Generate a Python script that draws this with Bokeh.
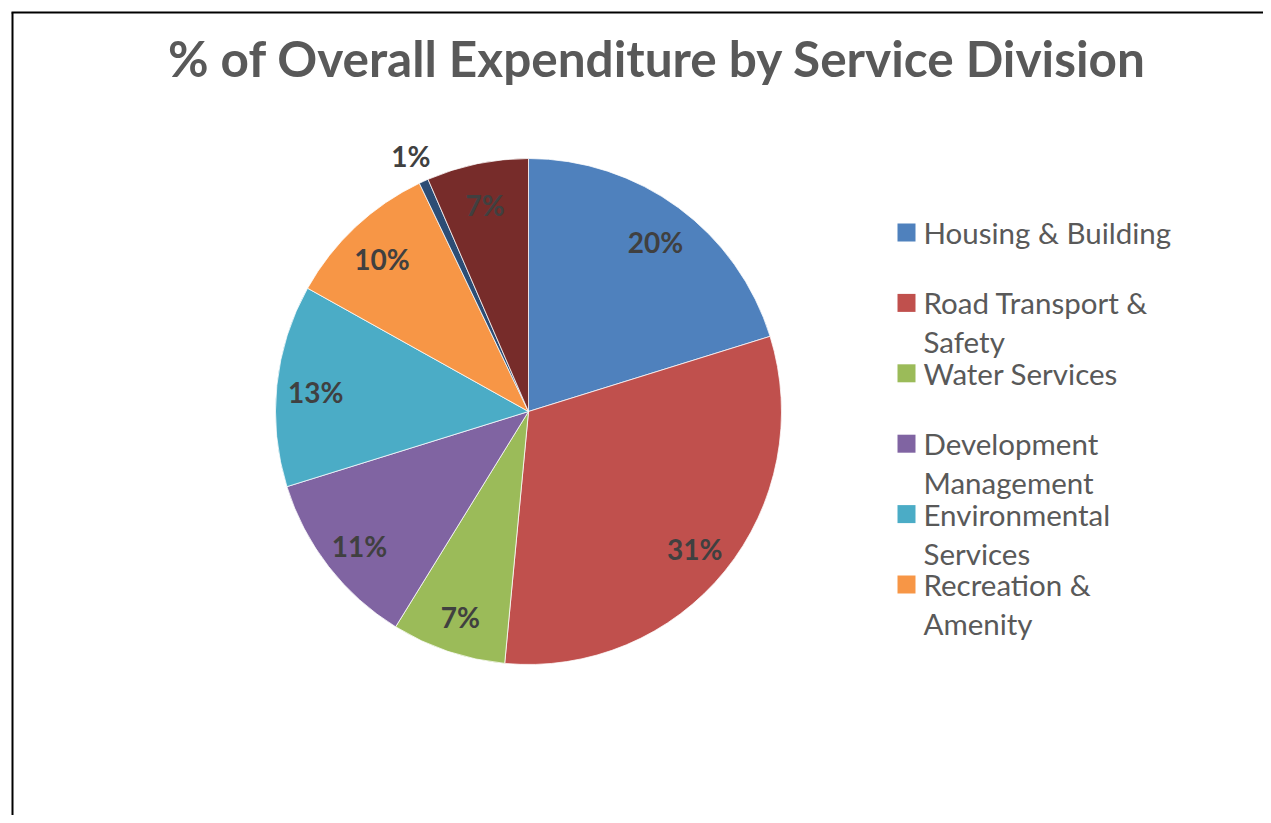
import math
from bokeh.plotting import figure
from bokeh.models import Range1d, ColumnDataSource
from bokeh.core.properties import value
from bokeh.embed import file_html
from bokeh.resources import INLINE

# ---- data ----
categories = ["Housing & Building", "Road Transport & Safety", "Water Services",
              "Development Management", "Environmental Services", "Recreation & Amenity",
              "Agriculture, Education, Health & Welfare", "Miscellaneous Services"]
legend_labels = ["Housing & Building", "Road Transport &\nSafety", "Water Services",
                 "Development\nManagement", "Environmental\nServices", "Recreation &\nAmenity"]
shares = [20.2, 31.3, 7.3, 11.4, 12.9, 9.8, 0.6, 6.5]
colors = ["#4F81BD", "#C0504D", "#9BBB59", "#8064A2", "#4BACC6", "#F79646", "#2C4D75", "#772C2A"]
title_text = "% of Overall Expenditure by Service Division"

W, H = 1263, 815
FONT = "Lato"

p = figure(width=W, height=H, output_backend="svg", toolbar_location=None,
           x_range=Range1d(0, W), y_range=Range1d(0, H), min_border=0)
p.axis.visible = False
p.grid.visible = False
p.outline_line_color = None
p.background_fill_color = "white"
p.border_fill_color = "white"

def py(y_page):
    return H - y_page

def px(x_page):
    return x_page

# chart-area border (left and top edges visible)
p.segment(x0=[px(12), px(11)], y0=[py(12), py(12)], x1=[px(12), px(2000)], y1=[py(2000), py(12)],
          line_color="black", line_width=2)

# title
p.text(x=[px(657)], y=[py(57)], text=[title_text], text_font=value(FONT),
       text_font_style="bold", text_font_size="49.5px", text_color="#595959",
       text_align="center", text_baseline="middle")

# pie
cx, cy, R = px(528), py(411), 253
total = sum(shares)
starts, ends, mids = [], [], []
cum = 0.0
for v in shares:
    a0 = math.pi / 2 - 2 * math.pi * cum / total
    cum += v
    a1 = math.pi / 2 - 2 * math.pi * cum / total
    starts.append(a0)
    ends.append(a1)
    mids.append((a0 + a1) / 2)

src = ColumnDataSource(dict(start=starts, end=ends, color=colors))
p.wedge(x=cx, y=cy, radius=R, radius_units="screen", start_angle="start", end_angle="end",
        direction="clock", fill_color="color", line_color="white", line_width=0.75, source=src)

# data labels
lx, ly, lt = [], [], []
for v, m in zip(shares, mids):
    r = 214 if v >= 2 else 284
    lx.append(cx + r * math.cos(m))
    ly.append(cy + r * math.sin(m) - 3)
    lt.append(f"{int(math.floor(v / total * 100 + 0.5))}%")
p.text(x=lx, y=ly, text=lt, text_font=value(FONT), text_font_style="bold",
       text_font_size="28px", text_color="#404040", text_align="center", text_baseline="middle")

# legend (first six entries visible, like the reference)
n = len(legend_labels)
leg_y = [py(232 + 70.4 * i) for i in range(n)]
p.rect(x=[px(906)] * n, y=leg_y, width=18, height=18, width_units="screen",
       height_units="screen", fill_color=colors[:n], line_color=None)
tx, ty, tt = [], [], []
for yy, lab in zip(leg_y, legend_labels):
    for k, line in enumerate(lab.split("\n")):
        tx.append(px(923))
        ty.append(yy - 39 * k)
        tt.append(line)
p.text(x=tx, y=ty, text=tt, text_font=value(FONT),
       text_font_size="29.5px", text_color="#595959", text_align="left",
       text_baseline="middle")

open("out.html", "w").write(file_html(p, INLINE))
